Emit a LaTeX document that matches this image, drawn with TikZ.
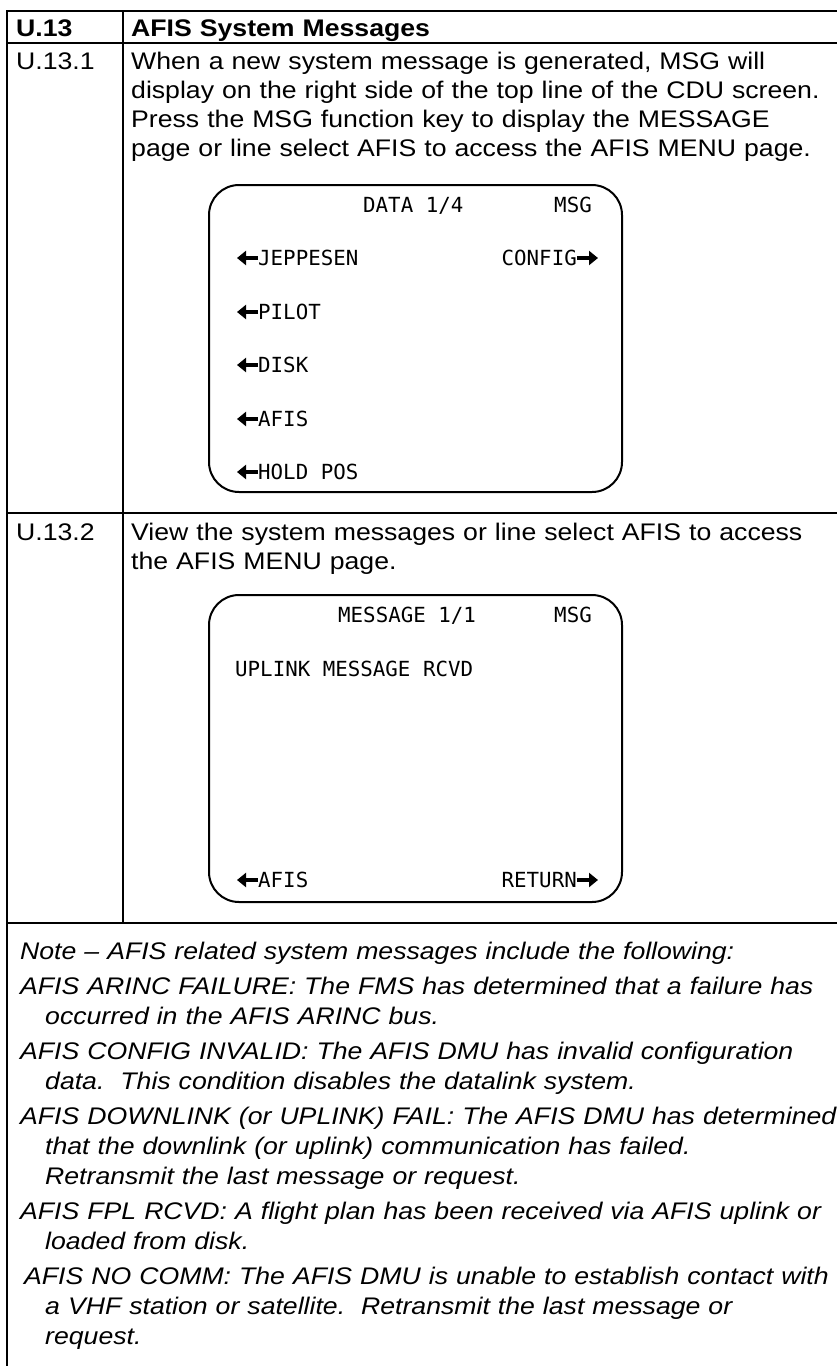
\documentclass[tikz,border=0pt]{standalone}
\usepackage{fontspec}
\setmainfont{Liberation Sans}[FakeStretch=1.11]
\newfontfamily\cdufont{DejaVu Sans Mono}
\usetikzlibrary{arrows.meta}

\begin{document}
\begin{tikzpicture}[x=1pt,y=1pt,line cap=butt,line join=miter,
    rule/.style={line width=2pt},
    cell/.style={anchor=base west,inner sep=0pt,align=left,text width=1000pt,
      font=\fontsize{24}{29}\selectfont},
    notepara/.style={anchor=base west,inner sep=0pt,align=left,text width=1000pt,
      font=\fontsize{24}{30}\selectfont\itshape},
    screen/.style={draw,line width=2pt,rounded corners=30pt,inner sep=0pt,
      minimum width=413pt,minimum height=307pt},
    cdu/.style={inner sep=0pt,font=\fontsize{20.8}{25}\selectfont\cdufont},
    lsk/.style={line width=3.5pt,-{Triangle[length=9pt,width=14pt]}}]

  % page
  \useasboundingbox (0,0) rectangle (837,-1366);

  % table rules
  \draw[rule] (7,-11) -- (837,-11);
  \draw[rule] (7,-43) -- (837,-43);
  \draw[rule] (7,-513) -- (837,-513);
  \draw[rule] (7,-923) -- (837,-923);
  \draw[rule] (7,-10) -- (7,-1366);
  \draw[rule] (123,-10) -- (123,-923);

  % header row
  \node[cell,text width=100pt,font=\fontsize{24}{29}\selectfont\bfseries] (sec) at (16,-36.7) {U.13};
  \node[cell,font=\fontsize{24}{29}\selectfont\bfseries] (title) at (131,-36.7) {AFIS System Messages};

  % step U.13.1
  \node[cell,text width=100pt] (stepa) at (16,-69.3) {U.13.1};
  \node[cell] (texta) at (131,-69.3) {When a new system message is generated, MSG will\\
    display on the right side of the top line of the CDU screen.\\
    Press the MSG function key to display the MESSAGE\\
    page or line select AFIS to access the AFIS MENU page.};

  % DATA 1/4 page
  \node[screen] (scra) at (415.5,-338.5) {};
  \node[cdu,anchor=base west] (dtitle) at (363,-212.6) {DATA 1/4};
  \node[cdu,anchor=base east] (dmsg) at (592,-212.6) {MSG};
  \node[cdu,anchor=base west] (jep) at (258,-265.6) {JEPPESEN};
  \node[cdu,anchor=base east] (config) at (577,-265.6) {CONFIG};
  \node[cdu,anchor=base west] (pilot) at (258,-319.6) {PILOT};
  \node[cdu,anchor=base west] (disk) at (258,-372.6) {DISK};
  \node[cdu,anchor=base west] (dafis) at (258,-426.6) {AFIS};
  \node[cdu,anchor=base west] (hold) at (258,-479.6) {HOLD POS};
  \foreach \n in {jep,pilot,disk,dafis,hold}
    \draw[lsk] ([yshift=7.6pt]\n.base west) -- ++(-21,0);
  \draw[lsk] ([yshift=7.6pt]config.base east) -- ++(21,0);

  % step U.13.2
  \node[cell,text width=100pt] (stepb) at (16,-540) {U.13.2};
  \node[cell] (textb) at (131,-540) {View the system messages or line select AFIS to access\\
    the AFIS MENU page.};

  % MESSAGE 1/1 page
  \node[screen] (scrb) at (415.5,-748.5) {};
  \node[cdu,anchor=base west] (mtitle) at (338,-622.6) {MESSAGE 1/1};
  \node[cdu,anchor=base east] (mmsg) at (592,-622.6) {MSG};
  \node[cdu,anchor=base west] (uplink) at (235,-676) {UPLINK MESSAGE RCVD};
  \node[cdu,anchor=base west] (mafis) at (258,-887.6) {AFIS};
  \node[cdu,anchor=base east] (return) at (577,-887.6) {RETURN};
  \draw[lsk] ([yshift=7.6pt]mafis.base west) -- ++(-21,0);
  \draw[lsk] ([yshift=7.6pt]return.base east) -- ++(21,0);

  % note with the message list
  \node[notepara] (note) at (20,-959) {Note -- AFIS related system messages include the following:};
  \node[notepara] (arinc) at (20,-994) {AFIS ARINC FAILURE: The FMS has determined that a failure has\\
    \hspace*{25pt}occurred in the AFIS ARINC bus.};
  \node[notepara] (cfgmsg) at (20,-1059) {AFIS CONFIG INVALID: The AFIS DMU has invalid configuration\\
    \hspace*{25pt}data.\ \ This condition disables the datalink system.};
  \node[notepara] (downlink) at (20,-1124) {AFIS DOWNLINK (or UPLINK) FAIL: The AFIS DMU has determined\\
    \hspace*{25pt}that the downlink (or uplink) communication has failed.\\
    \hspace*{25pt}Retransmit the last message or request.};
  \node[notepara] (fpl) at (20,-1219) {AFIS FPL RCVD: A flight plan has been received via AFIS uplink or\\
    \hspace*{25pt}loaded from disk.};
  \node[notepara] (nocomm) at (24,-1284) {AFIS NO COMM: The AFIS DMU is unable to establish contact with\\
    \hspace*{21pt}a VHF station or satellite.\ \ Retransmit the last message or\\
    \hspace*{21pt}request.};
\end{tikzpicture}
\end{document}
